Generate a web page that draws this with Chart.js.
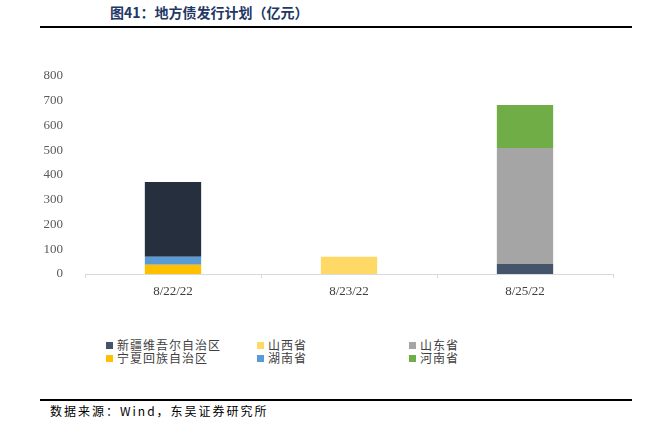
<!DOCTYPE html>
<html>
<head>
<meta charset="utf-8">
<script src="https://cdn.jsdelivr.net/npm/chart.js@4/dist/chart.umd.min.js"></script>
<style>
  body { margin: 0; background: #fff; width: 667px; height: 430px; position: relative; overflow: hidden;
         font-family: "Noto Sans CJK SC", sans-serif; }
  #title { position: absolute; left: 110px; top: 2px; font-size: 14px; font-weight: bold; color: #1f3864; }
  .rule { position: absolute; left: 40px; width: 592px; height: 2px; background: #000; }
  #wrap { position: absolute; left: 0; top: 40px; width: 667px; height: 260px; }
  #legend { position: absolute; left: 0; top: 338px; width: 667px; font-size: 12px; color: #404040; }
  .item { position: absolute; display: flex; align-items: center; height: 14px; line-height: 14px; letter-spacing: 1px; }
  .sw { width: 7px; height: 7px; margin-right: 4px; }
  #source { position: absolute; left: 50px; top: 402px; font-size: 12px; color: #000; letter-spacing: 2px; }
</style>
</head>
<body>
<div id="title">图41：地方债发行计划（亿元）</div>
<div class="rule" style="top:26px"></div>
<div id="wrap"><canvas id="chart"></canvas></div>
<div id="legend"></div>
<div class="rule" style="top:399px"></div>
<div id="source">数据来源：Wind，东吴证券研究所</div>
<script>
// categories and series (亿元)
const categories = ['8/22/22', '8/23/22', '8/25/22'];
const ningxia = [37, null, null];
const hunan = [33, null, null];
const xinjiang = [302, null, 40];
const shanxi = [null, 70, null];
const shandong = [null, null, 469];
const henan = [null, null, 174];
const yTicks = [0, 100, 200, 300, 400, 500, 600, 700, 800];

const series = [
  { label: '宁夏回族自治区', data: ningxia, color: '#ffc000' },
  { label: '湖南省', data: hunan, color: '#5b9bd5' },
  { label: '新疆维吾尔自治区', data: xinjiang, color: ['#262f3d', '#262f3d', '#44546a'], swatch: '#44546a' },
  { label: '山西省', data: shanxi, color: '#ffd966' },
  { label: '山东省', data: shandong, color: '#a5a5a5' },
  { label: '河南省', data: henan, color: '#70ad47' }
];

const tickFont = { family: '"Liberation Serif", serif', size: 13 };

new Chart(document.getElementById('chart'), {
  type: 'bar',
  data: {
    labels: categories,
    datasets: series.map(s => ({
      label: s.label,
      data: s.data,
      backgroundColor: s.color,
      borderWidth: 0,
      categoryPercentage: 1,
      barPercentage: 0.32
    }))
  },
  options: {
    responsive: true,
    maintainAspectRatio: false,
    animation: false,
    layout: { padding: { top: 36, right: 54, left: 0, bottom: 0 } },
    plugins: { legend: { display: false }, tooltip: { enabled: false } },
    scales: {
      x: {
        stacked: true,
        grid: { offset: true, drawOnChartArea: false, drawTicks: true, tickLength: 4, color: '#d9d9d9' },
        border: { color: '#d9d9d9' },
        ticks: { color: '#404040', font: tickFont, padding: 6 },
        afterFit: s => { s.height = 26; }
      },
      y: {
        stacked: true,
        min: 0,
        max: 800,
        grid: { display: false },
        border: { display: false },
        afterBuildTicks: s => { s.ticks = yTicks.map(v => ({ value: v })); },
        ticks: { color: '#595959', font: tickFont, padding: 14 },
        afterFit: s => { s.width = 85; }
      }
    }
  }
});

// legend laid out in three columns like the reference
const legendPos = {
  '新疆维吾尔自治区': [106, 0], '山西省': [257, 0], '山东省': [409, 0],
  '宁夏回族自治区': [106, 13], '湖南省': [257, 13], '河南省': [409, 13]
};
const legend = document.getElementById('legend');
series.forEach(s => {
  const p = legendPos[s.label];
  const el = document.createElement('div');
  el.className = 'item';
  el.style.left = p[0] + 'px';
  el.style.top = p[1] + 'px';
  el.innerHTML = '<span class="sw" style="background:' + (s.swatch || s.color) + '"></span>' + s.label;
  legend.appendChild(el);
});
</script>
</body>
</html>
